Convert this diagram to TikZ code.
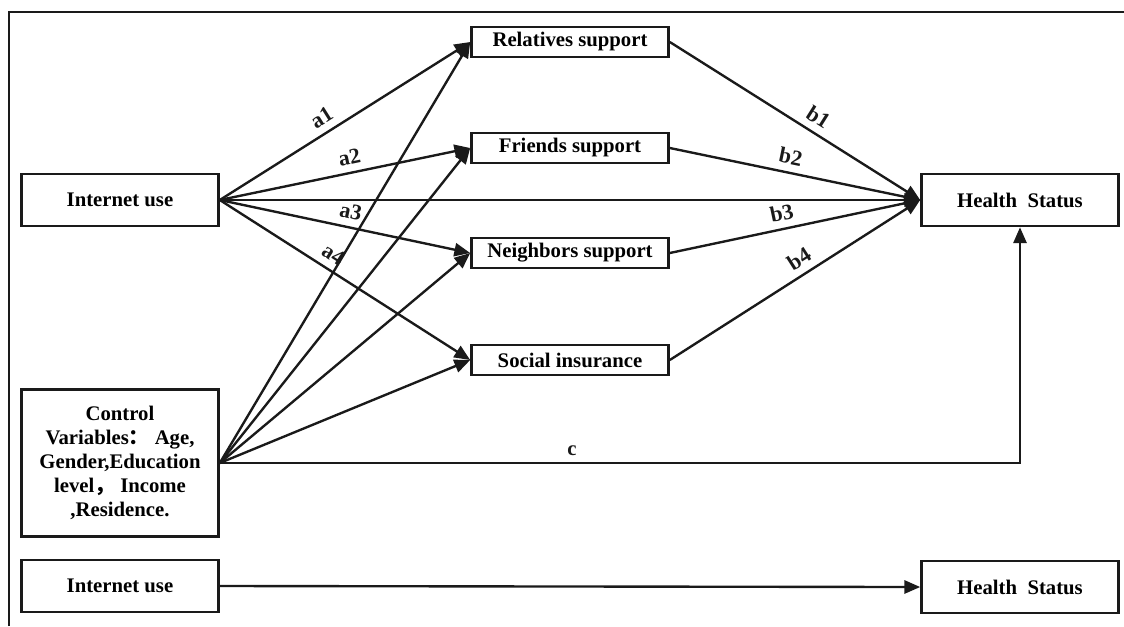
\documentclass[tikz,border=0pt]{standalone}
\usepackage{fontspec}
\setmainfont{Liberation Serif}
\newfontfamily\cjk{Noto Sans CJK SC}
\usepackage{xcolor}
\definecolor{ink}{HTML}{1A1A1A}
\usetikzlibrary{arrows.meta}

\begin{document}
\begin{tikzpicture}[
  x=0.02cm, y=0.02cm,
  font=\bfseries\fontsize{11.8}{13.6}\selectfont,
  var/.style={draw=ink, line width=1.5pt, align=center, inner sep=2pt,
              minimum width=3.94cm, minimum height=1.04cm},
  med/.style={var, minimum height=0.6cm},
  link/.style={-{Triangle[length=9pt,width=7.5pt]}, ink, line width=1.35pt},
  lab/.style={sloped, above, inner sep=4pt, font=\bfseries\fontsize{12.5}{14}\selectfont}
]
  \useasboundingbox (0,-626) rectangle (1124,0);
  \draw[ink, line width=1.5pt] (9,-626) -- (9,-12) -- (1124,-12);

  \node[var] (net) at (120,-200) {Internet use};
  \node[var, minimum height=2.94cm] (ctrl) at (120,-463)
        {Control\\Variables{\cjk ：}\ Age,\\Gender,Education\\level{\cjk ，}\ Income\\,Residence.};

  \node[med] (rel) at (570,-42)  {Relatives support};
  \node[med] (fri) at (570,-148) {Friends support};
  \node[med] (nei) at (570,-253) {Neighbors support};
  \node[med] (soc) at (570,-360) {Social insurance};

  \node[var] (hs) at (1020,-200) {Health\ \ Status};

  \node[var] (net2) at (120,-586) {Internet use};
  \node[var] (hs2) at (1020,-587) {Health\ \ Status};

  \draw[link] (net.east) -- node[lab, pos=0.44] {a1} (rel.west);
  \draw[link] (net.east) -- node[lab, pos=0.53] {a2} (fri.west);
  \draw[link] (net.east) -- node[lab, pos=0.51] {a3} (nei.west);
  \draw[link] (net.east) -- node[lab, pos=0.42] {a4} (soc.west);
  \draw[link] (net.east) -- (hs.west);

  \draw[link] (ctrl.east) -- (rel.west);
  \draw[link] (ctrl.east) -- (fri.west);
  \draw[link] (ctrl.east) -- (nei.west);
  \draw[link] (ctrl.east) -- (soc.west);
  \draw[link] (ctrl.east) -| node[above, pos=0.22] {c} (hs.south);

  \draw[link] (rel.east) -- node[lab, pos=0.56] {b1} (hs.west);
  \draw[link] (fri.east) -- node[lab, pos=0.47] {b2} (hs.west);
  \draw[link] (nei.east) -- node[lab, pos=0.46] {b3} (hs.west);
  \draw[link] (soc.east) -- node[lab, pos=0.55] {b4} (hs.west);

  \draw[link] (net2.east) -- (hs2.west);
\end{tikzpicture}
\end{document}
